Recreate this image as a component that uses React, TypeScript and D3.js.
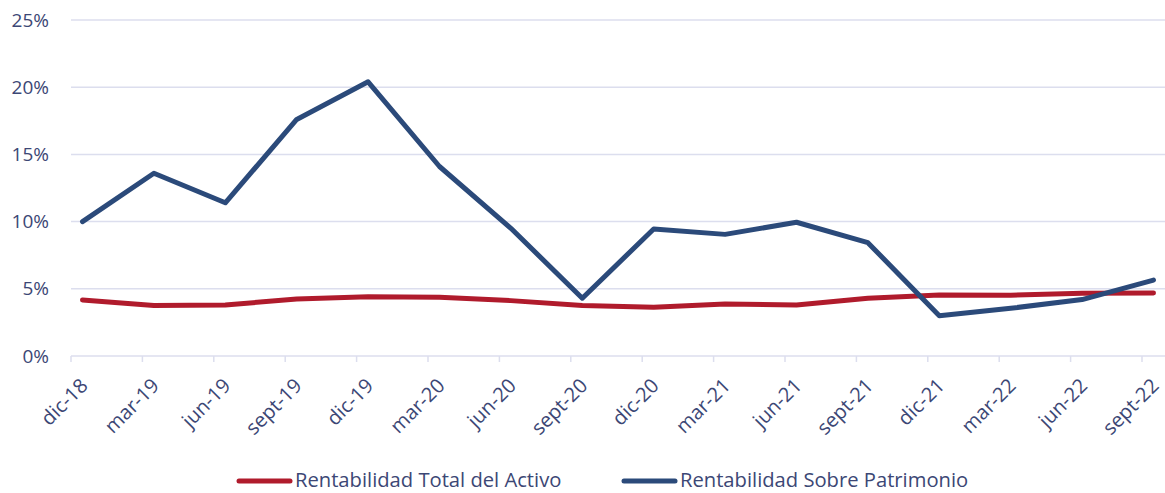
import React from "react";
import * as d3 from "d3";

const categories = ["dic-18","mar-19","jun-19","sept-19","dic-19","mar-20","jun-20","sept-20","dic-20","mar-21","jun-21","sept-21","dic-21","mar-22","jun-22","sept-22"];
const activo = [4.17,3.75,3.8,4.24,4.41,4.37,4.12,3.75,3.62,3.87,3.8,4.3,4.54,4.52,4.66,4.69];
const patrimonio = [10.0,13.6,11.4,17.6,20.4,14.1,9.5,4.3,9.45,9.05,9.95,8.43,3.0,3.55,4.2,5.65];
const yTicks = [0,5,10,15,20,25];
const seriesNames = ["Rentabilidad Total del Activo","Rentabilidad Sobre Patrimonio"];

const W = 1165, H = 493;
const RED = "#B01B2C";
const BLUE = "#2B4A7A";
const TEXT = "#3C4775";
const GRID = "#DCDEEE";
const FONT = "'Open Sans', sans-serif";

export default function App() {
  const xTick = d3.scalePoint<string>().domain(categories).range([71, 1142]);
  const xPt = d3.scalePoint<string>().domain(categories).range([82.5, 1153.5]);
  const y = d3.scaleLinear().domain([0, 25]).range([356, 20]);
  const line = d3.line<number>().x((_, i) => xPt(categories[i])!).y(d => y(d));
  return (
    <svg width={W} height={H} style={{ position: "absolute", left: 0, top: 0, fontFamily: FONT }}>
      {yTicks.map(t => (
        <g key={t}>
          <line x1={71} x2={1165} y1={y(t)} y2={y(t)} stroke={GRID} strokeWidth={1.5} />
          <text x={49} y={y(t)} dy="0.35em" textAnchor="end" fontSize={19} fill={TEXT}>{t}%</text>
        </g>
      ))}
      {categories.map(c => (
        <g key={c}>
          <line x1={xTick(c)} x2={xTick(c)} y1={356} y2={362} stroke={GRID} strokeWidth={1.5} />
          <text transform={`translate(${xTick(c)! + 18},${387}) rotate(-45)`} textAnchor="end" fontSize={20} fill={TEXT}>{c}</text>
        </g>
      ))}
      <path d={line(activo)!} fill="none" stroke={RED} strokeWidth={5} strokeLinejoin="round" strokeLinecap="round" />
      <path d={line(patrimonio)!} fill="none" stroke={BLUE} strokeWidth={5} strokeLinejoin="round" strokeLinecap="round" />
      {[RED, BLUE].map((col, i) => {
        const x0 = i === 0 ? 237 : 622;
        return (
          <g key={i}>
            <line x1={x0 + 2} x2={x0 + 53} y1={481} y2={481} stroke={col} strokeWidth={5} strokeLinecap="round" />
            <text x={x0 + 58} y={487} fontSize={20.2} fill={TEXT}>{seriesNames[i]}</text>
          </g>
        );
      })}
    </svg>
  );
}
